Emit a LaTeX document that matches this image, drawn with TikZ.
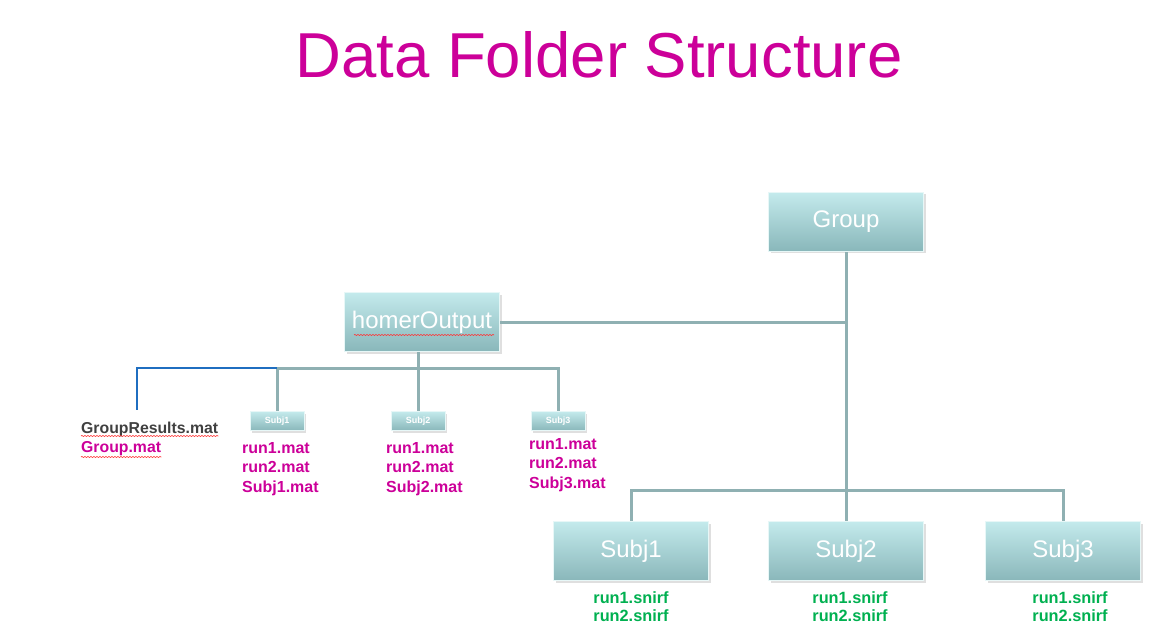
\documentclass[tikz,border=0pt]{standalone}
\usepackage{fontspec}
\setmainfont{Liberation Sans}
\usepackage{xcolor}
\usepackage{tikz}
\usetikzlibrary{positioning,calc,shadows,decorations.pathmorphing}

\definecolor{titlemag}{RGB}{204,0,153}
\definecolor{filegreen}{RGB}{0,176,80}
\definecolor{filegrey}{RGB}{64,64,64}
\definecolor{boxtop}{RGB}{196,234,236}
\definecolor{boxbot}{RGB}{137,183,186}
\definecolor{linkgrey}{RGB}{143,176,178}
\definecolor{linkblue}{RGB}{31,110,192}

\begin{document}
\begin{tikzpicture}[x=1pt, y=-1pt,
    folder/.style={rectangle, draw=white!60!boxtop, line width=1.2pt, top color=boxtop, bottom color=boxbot,
        minimum width=155pt, minimum height=59pt, inner sep=0pt, text=white,
        font=\fontsize{24}{28}\selectfont, drop shadow={shadow xshift=2pt, shadow yshift=-2pt, opacity=0.25}},
    smallfolder/.style={folder, minimum width=54pt, minimum height=19pt, line width=0.8pt,
        font=\fontsize{9}{10}\selectfont\bfseries},
    matfile/.style={anchor=base west, align=left, inner sep=0pt, text=titlemag,
        font=\fontsize{16}{19.5}\selectfont\bfseries},
    snirf/.style={anchor=base, align=center, inner sep=0pt, text=filegreen,
        font=\fontsize{16.3}{18}\selectfont\bfseries},
    link/.style={draw=linkgrey, line width=3pt},
    spell/.style={draw=red!80, line width=0.6pt, decorate, decoration={snake, amplitude=0.6pt, segment length=3pt}}
]
\useasboundingbox (0,0) rectangle (1172,636);

% title
\node[anchor=base, inner sep=0pt, text=titlemag, font=\fontsize{63.5}{70}\selectfont] (title) at (599,78) {Data Folder Structure};

% top level
\node[folder] (grp) at (846,222) {Group};
\node[folder] (hout) at (422,322) {homerOutput};

% raw data subjects
\node[folder] (subA) at (631,551) {Subj1};
\node[folder] (subB) at (846,551) {Subj2};
\node[folder] (subC) at (1063,551) {Subj3};
\coordinate (bus) at (846,490);

% output subjects
\node[smallfolder] (outA) at (277,421) {Subj1};
\node[smallfolder] (outB) at (418,421) {Subj2};
\node[smallfolder] (outC) at (558,421) {Subj3};
\coordinate (obus) at (418,368);
\coordinate (gend) at (137,410);

% links
\draw[link] (grp.south) -- (bus);
\draw[link] (bus) -| (subA.north);
\draw[link] (bus) -| (subC.north);
\draw[link] (bus) -- (subB.north);
\draw[link] (hout.east) -- (hout.east -| grp.south);
\draw[link] (obus |- hout.south) -- (obus);
\draw[link] (obus) -| (outA.north);
\draw[link] (obus) -| (outC.north);
\draw[link] (obus) -- (outB.north);
\draw[draw=linkblue, line width=2pt] (outA.north |- obus) -| (gend);

% group files
\node[matfile, text=filegrey, font=\fontsize{15.8}{16}\selectfont\bfseries] (gres) at (81,433) {GroupResults.mat};
\node[matfile, font=\fontsize{15.8}{16}\selectfont\bfseries] (gmat) at (81,452) {Group.mat};
\draw[spell] ($(gres.base west)+(0,3)$) -- ($(gres.base east)+(0,3)$);
\draw[spell] ($(gmat.base west)+(0,5)$) -- ($(gmat.base east)+(0,5)$);
\draw[spell] ($(hout.center)+(-68,13)$) -- ($(hout.center)+(72,13)$);

% per subject mat files
\node[matfile] (matA) at (242,492) {run1.mat\\run2.mat\\Subj1.mat};
\node[matfile] (matB) at (386,492) {run1.mat\\run2.mat\\Subj2.mat};
\node[matfile] (matC) at (529,488) {run1.mat\\run2.mat\\Subj3.mat};

% snirf files
\node[snirf] (snA) at (631,621) {run1.snirf\\run2.snirf};
\node[snirf] (snB) at (850,621) {run1.snirf\\run2.snirf};
\node[snirf] (snC) at (1070,621) {run1.snirf\\run2.snirf};

\end{tikzpicture}
\end{document}
